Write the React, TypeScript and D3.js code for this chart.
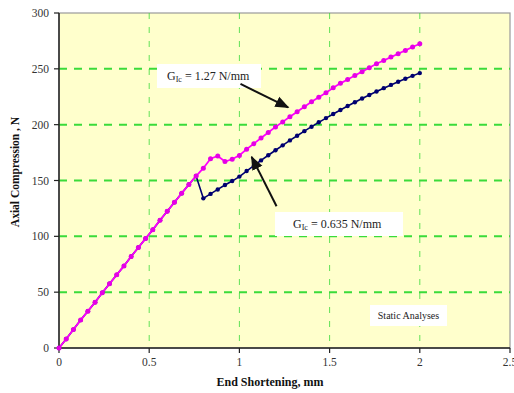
import React from "react";
import * as d3 from "d3";

const xValues = [
  0, 0.04, 0.08, 0.12, 0.16, 0.2, 0.24, 0.28, 0.32, 0.36, 0.4, 0.44, 0.48, 0.52, 0.56, 0.6, 0.64, 0.68, 0.72, 0.76,
  0.8, 0.84, 0.88, 0.92, 0.96, 1.0, 1.04, 1.08, 1.12, 1.16, 1.2, 1.24, 1.28, 1.32, 1.36, 1.4, 1.44, 1.48, 1.52, 1.56,
  1.6, 1.64, 1.68, 1.72, 1.76, 1.8, 1.84, 1.88, 1.92, 1.96, 2.0,
];

// G_Ic = 1.27 N/mm
const magentaValues = [
  0, 8, 16.5, 25, 33, 41, 49.5, 57.5, 65.5, 73.5, 82, 90, 98, 106, 114.5, 122.5, 130.5, 138.5, 146.5, 154,
  161, 169.5, 172, 167, 169, 172.5, 178, 183, 188, 193, 198, 202.5, 207, 211.5, 216, 220.5, 224.5, 228.5, 233, 237,
  240.5, 244, 247.5, 251, 254.5, 257.5, 260.5, 263.5, 266.5, 269.5, 272.5,
];

// G_Ic = 0.635 N/mm
const blueValues = [
  0, 8, 16.5, 25, 33, 41, 49.5, 57.5, 65.5, 73.5, 82, 90, 98, 106, 114.5, 122.5, 130.5, 138.5, 146.5, 154,
  134, 138, 142, 146, 149.5, 153.5, 158.5, 163.3, 168, 172.6, 177.1, 181.5, 185.9, 190.1, 194.2, 198.2, 202.1, 205.9,
  209.6, 213.2, 216.7, 220.1, 223.4, 226.6, 229.7, 232.7, 235.6, 238.4, 241.1, 243.7, 246.2,
];

const xTicks = [0, 0.5, 1, 1.5, 2, 2.5];
const xTickLabels = ["0", "0.5", "1", "1.5", "2", "2.5"];
const yTicks = [0, 50, 100, 150, 200, 250, 300];

const W = 514;
const H = 393;
const left = 59;
const right = 510;
const top = 13;
const bottom = 348;

export default function App() {
  const x = d3.scaleLinear().domain([0, 2.5]).range([left, right]);
  const y = d3.scaleLinear().domain([0, 300]).range([bottom, top]);
  const line = d3
    .line<number>()
    .x((_, i) => x(xValues[i]))
    .y((d) => y(d));

  const grid = "#3ADB3A";
  const serif = "'Liberation Serif', 'Times New Roman', serif";

  const arrow1 = { x1: 1.006, y1: 236.5, x2: 1.27, y2: 215.5 };
  const arrow2 = { x1: 1.206, y1: 127, x2: 1.068, y2: 171 };

  return (
    <svg width={W} height={H} style={{ position: "absolute", left: 0, top: 0, background: "#fff" }} fontFamily={serif}>
      <defs>
        <marker id="ah" viewBox="0 0 10 10" refX="9" refY="5" markerWidth="7" markerHeight="7" orient="auto">
          <path d="M0,1 L10,5 L0,9 z" fill="#111" />
        </marker>
      </defs>
      <rect x={left} y={top} width={right - left} height={bottom - top} fill="#FFFFCC" stroke="#9a9a9a" strokeWidth={1.2} />
      {/* vertical grid */}
      {xTicks.slice(1, -1).map((t) => (
        <line key={"vg" + t} x1={x(t)} x2={x(t)} y1={top} y2={bottom} stroke={grid} strokeWidth={1} strokeDasharray="6 8" opacity={0.8} />
      ))}
      {/* horizontal grid */}
      {yTicks.slice(1, -1).map((t) => (
        <line key={"hg" + t} x1={left} x2={right} y1={y(t)} y2={y(t)} stroke={grid} strokeWidth={2} strokeDasharray="8 7" />
      ))}
      {/* axes */}
      <line x1={left} x2={left} y1={top} y2={bottom} stroke="#222" strokeWidth={1.5} />
      <line x1={left} x2={right} y1={bottom} y2={bottom} stroke="#222" strokeWidth={1.5} />
      {yTicks.map((t) => (
        <g key={"yt" + t}>
          <line x1={left - 5} x2={left} y1={y(t)} y2={y(t)} stroke="#222" strokeWidth={1.2} />
          <text x={left - 10} y={y(t)} dy="0.35em" textAnchor="end" fontSize={11.5} fill="#333">
            {t}
          </text>
        </g>
      ))}
      {xTicks.map((t, i) => (
        <g key={"xt" + t}>
          <line x1={x(t)} x2={x(t)} y1={bottom} y2={bottom + 5} stroke="#222" strokeWidth={1.2} />
          <text x={x(t)} y={bottom + 18} textAnchor="middle" fontSize={11.5} fill="#333">
            {xTickLabels[i]}
          </text>
        </g>
      ))}
      <text x={270} y={386} textAnchor="middle" fontSize={12} fontWeight="bold" fill="#111">
        End Shortening, mm
      </text>
      <text transform={`translate(19,172) rotate(-90)`} textAnchor="middle" fontSize={11.5} fontWeight="bold" fill="#111">
        Axial Compression , N
      </text>

      {/* series */}
      <path d={line(blueValues) || ""} fill="none" stroke="#000070" strokeWidth={1.6} />
      {blueValues.map((v, i) => (
        <circle key={"b" + i} cx={x(xValues[i])} cy={y(v)} r={2.2} fill="#000070" />
      ))}
      <path d={line(magentaValues) || ""} fill="none" stroke="#FF00FF" strokeWidth={1.8} />
      {magentaValues.map((v, i) => (
        <circle key={"m" + i} cx={x(xValues[i])} cy={y(v)} r={2.5} fill="#E600E6" />
      ))}

      {/* annotations */}
      <rect x={157} y={64} width={104} height={24} fill="#fff" />
      <text x={167} y={80} fontSize={12} fill="#222">
        G<tspan fontSize={8} dy={2}>Ic</tspan>
        <tspan dy={-2}> = 1.27 N/mm</tspan>
      </text>
      <line x1={x(arrow1.x1)} y1={y(arrow1.y1)} x2={x(arrow1.x2)} y2={y(arrow1.y2)} stroke="#111" strokeWidth={2} markerEnd="url(#ah)" />

      <rect x={275} y={212} width={128} height={24} fill="#fff" />
      <text x={293} y={228} fontSize={12} fill="#222">
        G<tspan fontSize={8} dy={2}>Ic</tspan>
        <tspan dy={-2}> = 0.635 N/mm</tspan>
      </text>
      <line x1={x(arrow2.x1)} y1={y(arrow2.y1)} x2={x(arrow2.x2)} y2={y(arrow2.y2)} stroke="#111" strokeWidth={2} markerEnd="url(#ah)" />

      <rect x={370} y={305} width={77} height={21} fill="#fff" />
      <text x={408.5} y={319} textAnchor="middle" fontSize={10} fill="#222">
        Static Analyses
      </text>
    </svg>
  );
}
